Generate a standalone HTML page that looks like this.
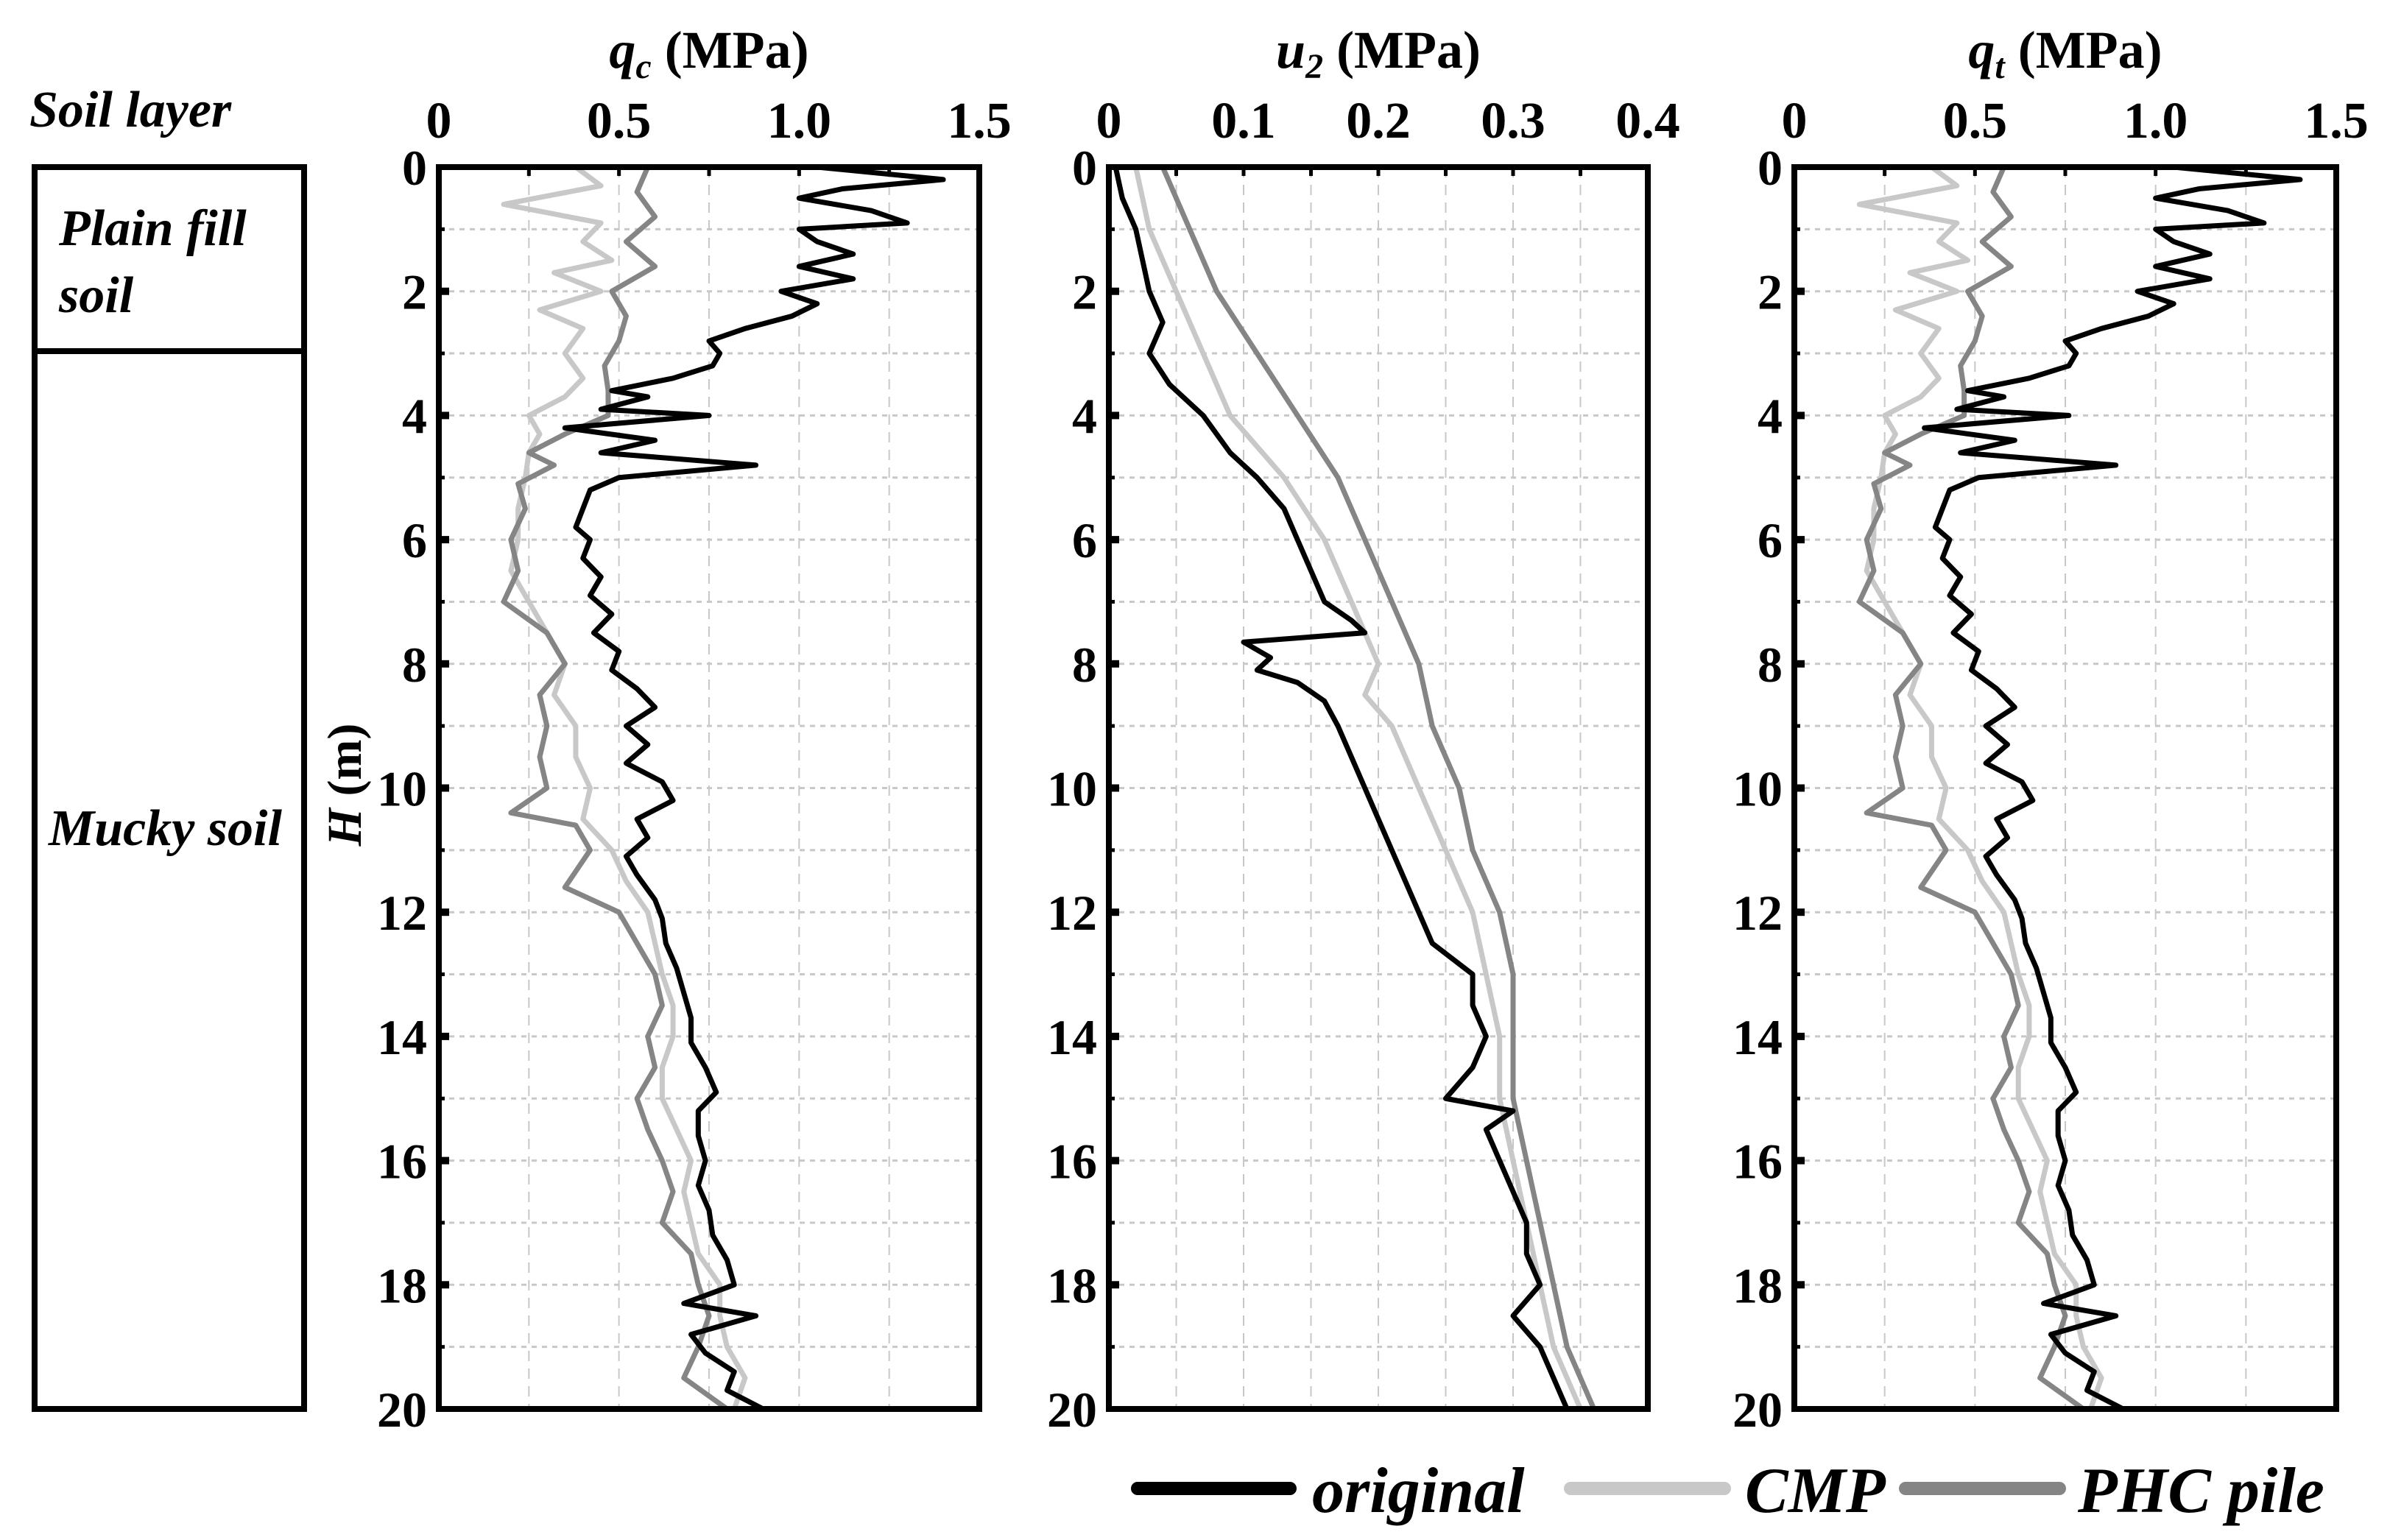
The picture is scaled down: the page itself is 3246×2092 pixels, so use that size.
<!DOCTYPE html>
<html><head><meta charset="utf-8"><style>
html,body{margin:0;padding:0;background:#fff}
svg{display:block}
text{font-family:"Liberation Serif",serif;font-weight:bold;fill:#000}
</style></head><body>
<svg id="chart" width="3246" height="2092" viewBox="0 0 3246 2092" xmlns="http://www.w3.org/2000/svg">
<g>
<text x="40" y="172" font-size="70" font-style="italic">Soil layer</text>
<rect x="47" y="227" width="366" height="1687" fill="none" stroke="#000" stroke-width="8"/>
<line x1="47" y1="477" x2="413" y2="477" stroke="#000" stroke-width="8"/>
<text x="80" y="333" font-size="70" font-style="italic">Plain fill</text>
<text x="80" y="424" font-size="70" font-style="italic">soil</text>
<text x="66" y="1148" font-size="70" font-style="italic">Mucky soil</text>
</g>
<text transform="translate(490,1066) rotate(-90)" text-anchor="middle" font-size="66"><tspan font-style="italic">H</tspan> (m)</text>
<g id="legend">
<line x1="1545" y1="2022" x2="1752" y2="2022" stroke="#000" stroke-width="18" stroke-linecap="round"/>
<text x="1782" y="2054" font-size="88" font-style="italic">original</text>
<line x1="2133" y1="2022" x2="2342" y2="2022" stroke="#c8c8c8" stroke-width="18" stroke-linecap="round"/>
<text x="2370" y="2054" font-size="88" font-style="italic">CMP</text>
<line x1="2588" y1="2022" x2="2797" y2="2022" stroke="#858585" stroke-width="18" stroke-linecap="round"/>
<text x="2822" y="2054" font-size="88" font-style="italic">PHC pile</text>
</g>
</svg>
<script>
const depthQcOrig=[0,0.2,0.35,0.5,0.7,0.9,1.0,1.2,1.4,1.6,1.8,2.0,2.2,2.4,2.6,2.8,3.0,3.2,3.4,3.6,3.7,3.9,4.0,4.2,4.4,4.6,4.8,5.0,5.2,5.5,5.8,6.0,6.3,6.6,6.9,7.2,7.5,7.8,8.1,8.4,8.7,9.0,9.3,9.6,9.9,10.2,10.5,10.8,11.1,11.4,11.8,12.1,12.5,12.9,13.3,13.7,14.1,14.5,14.9,15.2,15.6,16.0,16.4,16.8,17.2,17.6,18.0,18.3,18.5,18.8,19.1,19.4,19.7,20.0];
const qcOriginal=[1.05,1.40,1.12,1.0,1.2,1.30,1.00,1.05,1.15,1.00,1.15,0.95,1.05,0.98,0.85,0.75,0.78,0.76,0.65,0.48,0.58,0.45,0.75,0.35,0.60,0.45,0.88,0.50,0.42,0.40,0.38,0.42,0.40,0.45,0.42,0.48,0.43,0.50,0.48,0.55,0.60,0.52,0.58,0.52,0.62,0.65,0.55,0.58,0.52,0.55,0.60,0.62,0.63,0.66,0.68,0.70,0.70,0.74,0.77,0.72,0.72,0.74,0.72,0.75,0.76,0.80,0.82,0.68,0.88,0.70,0.74,0.82,0.80,0.90];
const depthQcCmp=[0,0.3,0.6,0.9,1.2,1.5,1.7,2.0,2.3,2.6,3.0,3.4,3.7,4.0,4.3,4.6,5.0,5.5,6.0,6.5,7.0,7.5,8.0,8.5,9.0,9.5,10.0,10.5,11.0,11.5,12.0,12.5,13.0,13.5,14.0,14.5,15.0,15.5,16.0,16.5,17.0,17.5,18.0,18.5,19.0,19.5,20.0];
const qcCmp=[0.38,0.45,0.18,0.45,0.40,0.48,0.32,0.45,0.28,0.40,0.35,0.40,0.35,0.25,0.28,0.25,0.24,0.22,0.22,0.20,0.25,0.30,0.35,0.32,0.38,0.38,0.42,0.40,0.48,0.52,0.58,0.60,0.62,0.65,0.65,0.62,0.62,0.66,0.70,0.68,0.70,0.72,0.78,0.78,0.80,0.85,0.82];
const depthQcPhc=[0,0.4,0.8,1.2,1.6,2.0,2.4,2.8,3.2,3.6,4.0,4.3,4.6,4.8,5.1,5.5,6.0,6.5,7.0,7.5,8.0,8.5,9.0,9.5,10.0,10.4,10.6,11.0,11.6,12.0,12.5,13.0,13.5,14.0,14.5,15.0,15.5,16.0,16.5,17.0,17.5,18.0,18.5,19.0,19.5,20.0];
const qcPhc=[0.58,0.55,0.60,0.52,0.60,0.48,0.52,0.50,0.46,0.47,0.47,0.35,0.25,0.32,0.22,0.24,0.20,0.22,0.18,0.30,0.35,0.28,0.30,0.28,0.30,0.20,0.38,0.42,0.35,0.50,0.55,0.60,0.62,0.58,0.60,0.55,0.58,0.62,0.65,0.62,0.70,0.72,0.75,0.72,0.68,0.80];
const depthU2Orig=[0,0.5,1.0,1.5,2.0,2.5,3.0,3.5,3.8,4.0,4.3,4.6,5.0,5.5,6.0,6.5,7.0,7.3,7.5,7.65,7.9,8.1,8.3,8.6,9.0,9.5,10.0,10.5,11.0,11.5,12.0,12.5,13.0,13.5,14.0,14.5,15.0,15.2,15.5,16.0,16.5,17.0,17.5,18.0,18.5,19.0,19.5,20.0];
const u2Original=[0.005,0.01,0.02,0.025,0.03,0.04,0.03,0.045,0.06,0.07,0.08,0.09,0.11,0.13,0.14,0.15,0.16,0.18,0.19,0.10,0.12,0.11,0.14,0.16,0.17,0.18,0.19,0.20,0.21,0.22,0.23,0.24,0.27,0.27,0.28,0.27,0.25,0.30,0.28,0.29,0.30,0.31,0.31,0.32,0.30,0.32,0.33,0.34];
const depthU2=[0,1,2,3,4,5,6,7,8,8.5,9,10,11,12,13,14,15,16,17,18,19,20];
const u2Cmp=[0.02,0.03,0.05,0.07,0.09,0.13,0.16,0.18,0.20,0.19,0.21,0.23,0.25,0.27,0.28,0.29,0.29,0.30,0.31,0.32,0.33,0.35];
const u2Phc=[0.04,0.06,0.08,0.11,0.14,0.17,0.19,0.21,0.23,0.235,0.24,0.26,0.27,0.29,0.30,0.30,0.30,0.31,0.32,0.33,0.34,0.36];
const qtOriginal=[1.05,1.40,1.12,1.0,1.2,1.30,1.00,1.05,1.15,1.00,1.15,0.95,1.05,0.98,0.85,0.75,0.78,0.76,0.65,0.48,0.58,0.45,0.76,0.36,0.61,0.46,0.89,0.51,0.43,0.41,0.39,0.43,0.41,0.46,0.43,0.49,0.44,0.51,0.49,0.56,0.61,0.53,0.59,0.53,0.63,0.66,0.56,0.59,0.53,0.56,0.61,0.63,0.64,0.67,0.69,0.71,0.71,0.75,0.78,0.73,0.73,0.75,0.73,0.76,0.77,0.81,0.83,0.69,0.89,0.71,0.75,0.83,0.81,0.91];
const qtCmp=[0.38,0.45,0.18,0.45,0.40,0.48,0.32,0.45,0.28,0.40,0.35,0.40,0.35,0.25,0.28,0.25,0.24,0.22,0.22,0.20,0.25,0.30,0.35,0.32,0.38,0.38,0.42,0.40,0.48,0.52,0.58,0.60,0.62,0.65,0.65,0.62,0.62,0.66,0.70,0.68,0.70,0.72,0.78,0.78,0.80,0.85,0.82];
const qtPhc=[0.58,0.55,0.60,0.52,0.60,0.48,0.52,0.50,0.46,0.47,0.47,0.35,0.25,0.32,0.22,0.24,0.20,0.22,0.18,0.30,0.35,0.28,0.30,0.28,0.30,0.20,0.38,0.42,0.35,0.50,0.55,0.60,0.62,0.58,0.60,0.55,0.58,0.62,0.65,0.62,0.70,0.72,0.75,0.72,0.68,0.80];
const qTicks=["0","0.5","1.0","1.5"], qTickVals=[0,0.5,1.0,1.5];
const uTicks=["0","0.1","0.2","0.3","0.4"], uTickVals=[0,0.1,0.2,0.3,0.4];
const depthTicks=[0,2,4,6,8,10,12,14,16,18,20];

const NS="http://www.w3.org/2000/svg";
const svg=document.getElementById('chart');
function el(tag,attrs,parent){const e=document.createElementNS(NS,tag);for(const k in attrs)e.setAttribute(k,attrs[k]);(parent||svg).appendChild(e);return e;}
const yTop=227,yBot=1914;
function drawPanel(x0,x1,xmax,gridStep,ticks,tickVals,titleMain,titleSub,series,name){
  const g=el('g',{});
  
  
  const X=v=>x0+(v/xmax)*(x1-x0), Y=d=>yTop+(d/20)*(yBot-yTop);
  for(let v=gridStep;v<xmax-1e-9;v+=gridStep){const l=el('line',{x1:X(v),x2:X(v),y1:yTop,y2:yBot,stroke:'#c8c8c8','stroke-width':2,'stroke-dasharray':'14 10'},g);
    
    }
  for(let d=1;d<20;d++){const l=el('line',{x1:x0,x2:x1,y1:Y(d),y2:Y(d),stroke:'#c8c8c8','stroke-width':3,'stroke-dasharray':'7 7'},g);
    
    }
  series.forEach(s=>{const p=el('polyline',{points:s.d.map((d,i)=>X(s.v[i])+','+Y(d)).join(' '),fill:'none',stroke:s.c,'stroke-width':7,'stroke-linejoin':'round'},g);
    
    });
  for(let d=1;d<20;d++){const t=el('line',{x1:x0,x2:x0+(d%2?8:14),y1:Y(d),y2:Y(d),stroke:'#000','stroke-width':d%2?5:10},g);
    
    }
  tickVals.forEach((v,i)=>{const t=el('text',{x:X(v),y:187,'text-anchor':'middle','font-size':70},g);t.textContent=ticks[i];
    
    });
  for(let v=gridStep;v<xmax-1e-9;v+=gridStep){const t=el('line',{x1:X(v),x2:X(v),y1:yTop,y2:yTop+12,stroke:'#000','stroke-width':5},g);
    
    }
  depthTicks.forEach(d=>{const t=el('text',{x:x0-16,y:Y(d)+24,'text-anchor':'end','font-size':68},g);t.textContent=d;
    
    });
  const r=el('rect',{x:x0,y:yTop,width:x1-x0,height:yBot-yTop,fill:'none',stroke:'#000','stroke-width':8},g);
  
  
  const tt=el('text',{x:(x0+x1)/2,y:92,'text-anchor':'middle','font-size':72},g);
  
  
  const a=el('tspan',{'font-style':'italic'},tt);a.textContent=titleMain;
  const b=el('tspan',{'font-style':'italic','font-size':48,dy:14},tt);b.textContent=titleSub;
  const c=el('tspan',{dy:-14},tt);c.textContent=' (MPa)';
}
drawPanel(596,1330,1.5,0.25,qTicks,qTickVals,'q','c',[
 {d:depthQcCmp,v:qcCmp,c:'#c8c8c8',n:'cmp'},{d:depthQcPhc,v:qcPhc,c:'#858585',n:'phc'},{d:depthQcOrig,v:qcOriginal,c:'#000',n:'original'}],'qc');
drawPanel(1506,2238,0.4,0.05,uTicks,uTickVals,'u','2',[
 {d:depthU2,v:u2Cmp,c:'#c8c8c8',n:'cmp'},{d:depthU2,v:u2Phc,c:'#858585',n:'phc'},{d:depthU2Orig,v:u2Original,c:'#000',n:'original'}],'u2');
drawPanel(2437,3173,1.5,0.25,qTicks,qTickVals,'q','t',[
 {d:depthQcCmp,v:qtCmp,c:'#c8c8c8',n:'cmp'},{d:depthQcPhc,v:qtPhc,c:'#858585',n:'phc'},{d:depthQcOrig,v:qtOriginal,c:'#000',n:'original'}],'qt');
svg.appendChild(document.getElementById('legend'));
</script>
</body></html>
